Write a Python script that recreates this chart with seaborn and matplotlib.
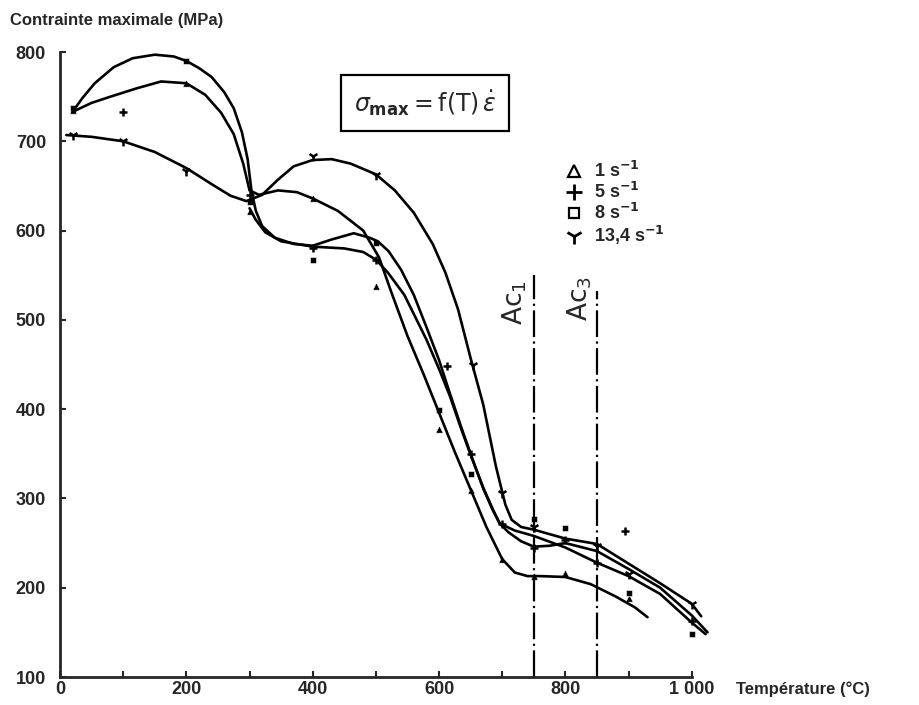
import numpy as np
import pandas as pd
import matplotlib
matplotlib.use("Agg")
import matplotlib.pyplot as plt
from matplotlib.lines import Line2D
import seaborn as sns

# --- curves, temperature in degC, stress in MPa ---
rate_labels = ["1 s-1", "5 s-1", "8 s-1", "13,4 s-1"]

curve_T_1 = [20, 50, 80, 120, 160, 200, 230, 255, 275, 290, 300, 315, 345, 375, 400, 440, 480,
             505, 525, 550, 575, 600, 625, 650, 675, 700, 720, 740, 760, 800, 840, 880, 910, 930]
curve_v_1 = [733, 743, 750, 759, 767, 765, 752, 732, 708, 675, 645, 640, 645, 643, 636, 622, 600,
             570, 530, 482, 440, 396, 352, 310, 268, 232, 217, 213, 213, 212, 204, 190, 178, 167]

curve_T_5 = [300, 310, 325, 350, 400, 450, 480, 501, 520, 545, 580, 600, 617, 635, 652, 670, 685,
             696, 720, 750, 800, 850, 900, 950, 1000, 1022]
curve_v_5 = [625, 612, 598, 588, 582, 580, 576, 567, 552, 528, 478, 445, 415, 378, 345, 312, 288,
             272, 264, 258, 245, 228, 213, 193, 161, 148]

curve_T_8 = [20, 35, 55, 85, 115, 150, 180, 200, 220, 240, 260, 275, 288, 297, 303, 310, 320, 340,
             370, 400, 430, 465, 490, 503, 520, 540, 560, 580, 600, 617, 635, 652, 670, 685, 696,
             710, 730, 750, 775, 800, 850, 900, 950, 1000, 1025]
curve_v_8 = [733, 748, 765, 783, 793, 797, 795, 790, 782, 772, 755, 737, 710, 680, 645, 622, 605, 592,
             585, 583, 590, 597, 592, 588, 577, 556, 528, 492, 455, 418, 380, 346, 311, 287, 272,
             262, 252, 246, 247, 250, 241, 221, 200, 169, 150]

curve_T_13 = [10, 50, 100, 150, 200, 240, 270, 295, 320, 345, 370, 400, 430, 460, 500, 530, 560, 590,
              610, 630, 650, 670, 690, 705, 715, 730, 750, 800, 850, 875, 900, 950, 1000, 1015]
curve_v_13 = [707, 705, 700, 688, 670, 652, 639, 633, 640, 657, 672, 679, 680, 675, 663, 645, 620, 585,
              553, 512, 457, 405, 336, 293, 276, 268, 265, 255, 249, 238, 227, 205, 182, 168]

# --- measured points ---
pts_T_1 = [20, 200, 300, 400, 500, 600, 650, 700, 750, 800, 900]
pts_v_1 = [735, 765, 622, 636, 538, 378, 310, 232, 213, 216, 188]
pts_T_5 = [100, 300, 400, 500, 612, 650, 700, 750, 800, 850, 895, 1000]
pts_v_5 = [733, 640, 581, 567, 448, 350, 271, 245, 254, 228, 263, 163]
pts_T_8 = [20, 200, 300, 400, 500, 600, 650, 750, 800, 900, 1000]
pts_v_8 = [737, 790, 632, 567, 586, 399, 327, 277, 267, 194, 148]
pts_T_13 = [20, 100, 200, 400, 500, 653, 700, 750, 850, 900, 1000]
pts_v_13 = [707, 700, 667, 683, 662, 450, 306, 268, 247, 215, 182]

ac_T = [750, 850]
ac_top = [550, 532]

curves = pd.concat([
    pd.DataFrame({"T": curve_T_1, "v": curve_v_1, "rate": rate_labels[0]}),
    pd.DataFrame({"T": curve_T_5, "v": curve_v_5, "rate": rate_labels[1]}),
    pd.DataFrame({"T": curve_T_8, "v": curve_v_8, "rate": rate_labels[2]}),
    pd.DataFrame({"T": curve_T_13, "v": curve_v_13, "rate": rate_labels[3]}),
])

sns.set_style("ticks")
plt.rcParams["font.family"] = ["Liberation Sans", "DejaVu Sans"]

fig = plt.figure(figsize=(9.19, 7.05), dpi=100)
ax = fig.add_axes([60 / 919, 28 / 705, 657 / 919, 625 / 705])

sns.lineplot(data=curves, x="T", y="v", units="rate", estimator=None, sort=False,
             color="black", lw=1.9, ax=ax)

sns.scatterplot(x=pts_T_1, y=pts_v_1, marker="^", color="black", s=28, ax=ax)
sns.scatterplot(x=pts_T_5, y=pts_v_5, marker="+", color="black", s=40, linewidth=1.8, ax=ax)
sns.scatterplot(x=pts_T_8, y=pts_v_8, marker="s", color="black", s=24, ax=ax)
sns.scatterplot(x=pts_T_13, y=pts_v_13, marker="1", color="black", s=50, linewidth=1.8, ax=ax)

# transformation temperatures
for t, top in zip(ac_T, ac_top):
    ax.plot([t, t], [100, top], color="black", lw=1.6, linestyle=(0, (12, 2, 1, 2)))
ax.text(720, 519, "Ac$_1$", rotation=90, ha="center", va="center", fontsize=19,
        family="DejaVu Sans")
ax.text(823, 524, "Ac$_3$", rotation=90, ha="center", va="center", fontsize=19,
        family="DejaVu Sans")

ax.text(578, 743, r"$\sigma_{\mathbf{max}} = \mathrm{f(T)}\,\dot{\epsilon}$", ha="center",
        va="center", fontsize=17,
        bbox=dict(boxstyle="square,pad=0.55", facecolor="white", edgecolor="black", lw=1.6))

ax.set_xlim(0, 1040)
ax.set_ylim(100, 800)
ax.set_xticks(range(0, 1001, 100))
ax.set_xticklabels(["0", "", "200", "", "400", "", "600", "", "800", "", "1 000"])
ax.set_yticks(range(100, 801, 100))
ax.tick_params(direction="in", length=4, width=1.5, labelsize=13)
for lab in ax.get_xticklabels() + ax.get_yticklabels():
    lab.set_fontweight("bold")
ax.tick_params(axis="x", pad=3)
ax.tick_params(axis="y", pad=10)
ax.set_xlabel("")
ax.set_ylabel("")
sns.despine(ax=ax)
ax.spines["bottom"].set_bounds(0, 1000)
ax.spines["left"].set_bounds(100, 800)
ax.spines["bottom"].set_linewidth(2)
ax.spines["left"].set_linewidth(2)

legend_handles = [
    Line2D([], [], marker="^", ls="", mfc="white", mec="black", mew=1.6, ms=8),
    Line2D([], [], marker="+", ls="", color="black", mew=2, ms=11),
    Line2D([], [], marker="s", ls="", mfc="white", mec="black", mew=1.6, ms=7),
    Line2D([], [], marker="1", ls="", color="black", mew=2, ms=12),
]
legend_text = [r"1 s$^{\mathbf{-1}}$", r"5 s$^{\mathbf{-1}}$", r"8 s$^{\mathbf{-1}}$",
               r"13,4 s$^{\mathbf{-1}}$"]
leg = fig.legend(legend_handles, legend_text, loc="upper left", bbox_to_anchor=(558 / 919, 1 - 154 / 705),
                 frameon=False, fontsize=13, handlelength=1.0, handletextpad=0.6,
                 labelspacing=0.05, borderaxespad=0)
for t in leg.get_texts():
    t.set_fontweight("bold")

fig.text(10 / 919, 1 - 20 / 705, "Contrainte maximale (MPa)", fontsize=12, fontweight="bold",
         va="center", ha="left")
fig.text(736 / 919, 1 - 689 / 705, "Température (°C)", fontsize=12, fontweight="bold",
         va="center", ha="left")

fig.savefig("out.png", dpi=100)
